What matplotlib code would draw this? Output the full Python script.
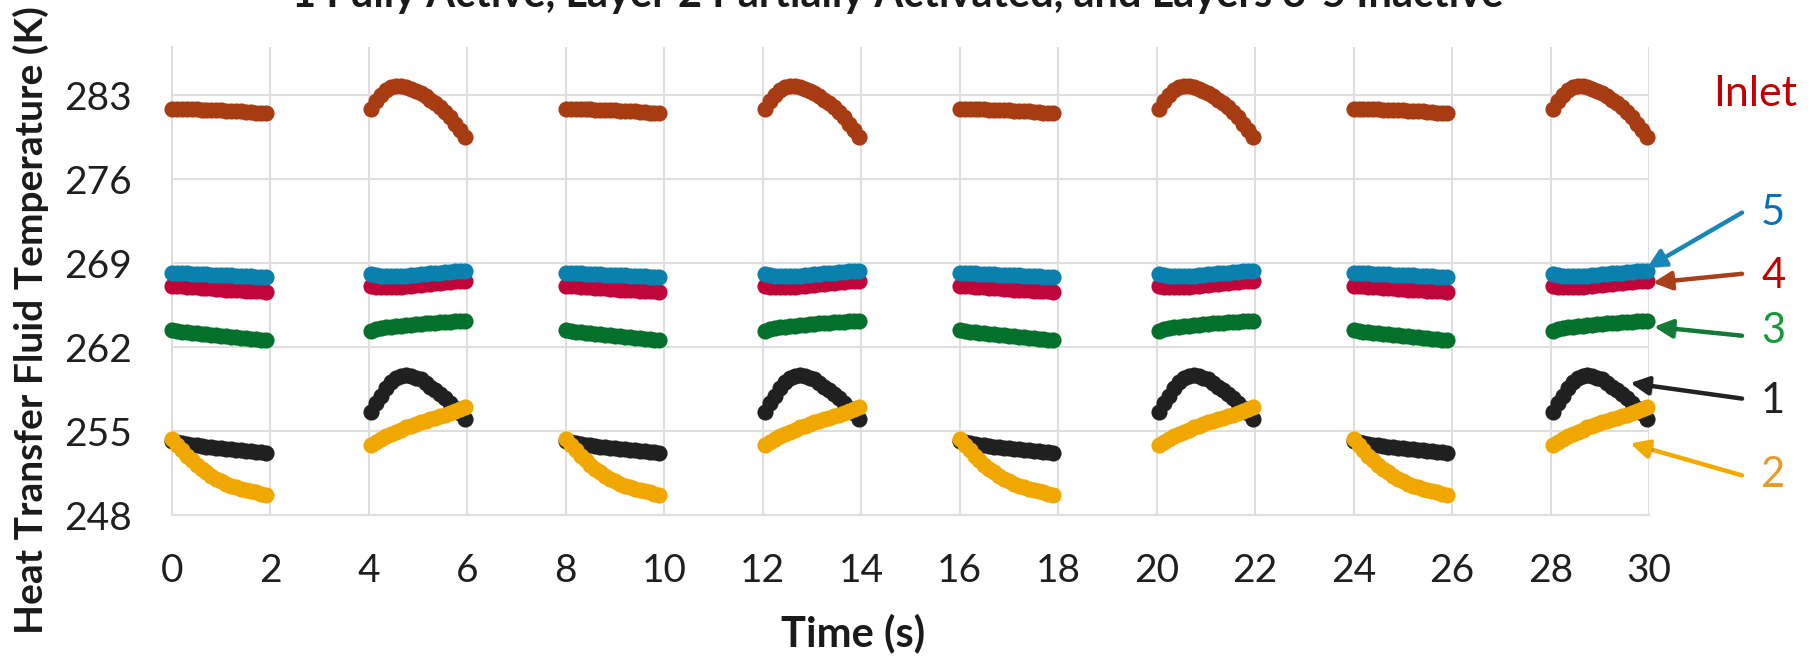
import matplotlib
matplotlib.use('Agg')
import matplotlib.pyplot as plt
import matplotlib.patheffects as pe

plt.rcParams['font.family'] = ['Lato', 'DejaVu Sans']

# ---------------- data ----------------
SEG_A_STARTS = [0.0, 8.0, 16.0, 24.0]      # flat / cooling phase
SEG_B_STARTS = [4.05, 12.05, 20.05, 28.05]  # heating phase
OFFSETS = [0.0, 0.1, 0.2, 0.3, 0.4, 0.5, 0.6, 0.7, 0.8, 0.9,
           1.0, 1.1, 1.2, 1.3, 1.4, 1.5, 1.6, 1.7, 1.8, 1.9]

INLET_A = [281.85, 281.85, 281.84, 281.83, 281.82, 281.80, 281.78, 281.77, 281.76, 281.74,
           281.72, 281.70, 281.68, 281.66, 281.63, 281.60, 281.57, 281.54, 281.51, 281.48]
INLET_B = [281.8, 282.5, 283.0, 283.4, 283.65, 283.78, 283.75, 283.65, 283.5, 283.35,
           283.2, 282.9, 282.6, 282.3, 282.0, 281.6, 281.15, 280.6, 280.05, 279.5]

L5_A = [268.2, 268.18, 268.16, 268.14, 268.12, 268.1, 268.08, 268.06, 268.04, 268.02,
        268.0, 267.98, 267.96, 267.94, 267.92, 267.9, 267.88, 267.86, 267.83, 267.8]
L5_B = [268.1, 268.0, 267.95, 267.9, 267.88, 267.88, 267.9, 267.93, 267.97, 268.0,
        268.05, 268.1, 268.13, 268.17, 268.2, 268.24, 268.27, 268.3, 268.33, 268.36]

L4_A = [267.12, 267.09, 267.06, 267.03, 267.0, 266.97, 266.94, 266.91, 266.88, 266.85,
        266.82, 266.79, 266.76, 266.74, 266.72, 266.7, 266.68, 266.66, 266.64, 266.62]
L4_B = [267.1, 267.02, 266.98, 266.96, 266.97, 266.99, 267.02, 267.06, 267.1, 267.14,
        267.18, 267.22, 267.26, 267.3, 267.34, 267.38, 267.42, 267.46, 267.5, 267.53]

L3_A = [263.38, 263.32, 263.27, 263.22, 263.17, 263.13, 263.09, 263.05, 263.01, 262.97,
        262.93, 262.89, 262.85, 262.81, 262.77, 262.73, 262.69, 262.65, 262.62, 262.58]
L3_B = [263.36, 263.47, 263.56, 263.63, 263.69, 263.74, 263.78, 263.82, 263.86, 263.9,
        263.93, 263.97, 264.0, 264.03, 264.06, 264.09, 264.12, 264.15, 264.18, 264.2]

L1_A = [254.15, 254.05, 253.98, 253.92, 253.86, 253.8, 253.75, 253.7, 253.65, 253.6,
        253.56, 253.52, 253.48, 253.44, 253.4, 253.36, 253.32, 253.27, 253.22, 253.17]
L1_B = [256.6, 257.3, 257.9, 258.6, 259.1, 259.4, 259.6, 259.65, 259.6, 259.45,
        259.3, 259.0, 258.7, 258.4, 258.1, 257.75, 257.35, 256.95, 256.5, 256.0]

L2_A = [254.3, 253.85, 253.4, 252.95, 252.55, 252.2, 251.85, 251.55, 251.25, 251.0,
        250.8, 250.6, 250.45, 250.3, 250.18, 250.07, 249.97, 249.88, 249.79, 249.7]
L2_B = [253.8, 254.1, 254.35, 254.55, 254.75, 254.95, 255.12, 255.3, 255.45, 255.6,
        255.75, 255.87, 255.98, 256.1, 256.22, 256.35, 256.5, 256.65, 256.82, 256.97]

X_TICKS = [0, 2, 4, 6, 8, 10, 12, 14, 16, 18, 20, 22, 24, 26, 28, 30]
Y_TICKS = [248, 255, 262, 269, 276, 283]

TITLE = "1 Fully Active, Layer 2 Partially Activated, and Layers 3-5 Inactive"
X_LABEL = "Time (s)"
Y_LABEL = "Heat Transfer Fluid Temperature (K)"

# series: (A profile, B profile, color) in drawing order
SERIES = [
    (INLET_A, INLET_B, '#A73C12'),
    (L4_A, L4_B, '#C0043A'),
    (L5_A, L5_B, '#0A80AE'),
    (L3_A, L3_B, '#03702C'),
    (L1_A, L1_B, '#202020'),
    (L2_A, L2_B, '#F0A800'),
]

# annotation labels: text, color, text pos (t, K)
LABELS = [
    ("Inlet", '#C00000', 32.15, 283.1),
    ("5", '#0070C0', 32.52, 273.2),
    ("4", '#C00000', 32.52, 267.94),
    ("3", '#17973A', 32.52, 263.36),
    ("1", '#222222', 32.52, 257.5),
    ("2", '#E69B2B', 32.52, 251.3),
]
# arrows: tail (t,K) -> head (t,K), color
ARROWS = [
    ((31.89, 273.2), (29.96, 268.6), '#1A86B8'),
    ((31.89, 268.1), (30.08, 267.36), '#A8401A'),
    ((31.89, 262.94), (30.10, 263.69), '#127A35'),
    ((31.89, 257.7), (29.62, 259.0), '#222222'),
    ((31.89, 251.3), (29.62, 253.96), '#F2AA00'),
]

# ---------------- figure ----------------
fig = plt.figure(figsize=(18.12, 6.57), dpi=100)
ax = fig.add_axes([172 / 1812, 1 - 515 / 657, (1649 - 172) / 1812, (515 - 47) / 657])

for prof_a, prof_b, col in SERIES:
    for s in SEG_A_STARTS:
        ax.scatter([s + o for o in OFFSETS], prof_a, s=135, color=col,
                   linewidths=0, zorder=3, clip_on=False)
    for s in SEG_B_STARTS:
        ax.scatter([s + o for o in OFFSETS], prof_b, s=135, color=col,
                   linewidths=0, zorder=3, clip_on=False)

ax.set_xlim(0, 30)
ax.set_ylim(248, 287)
ax.set_xticks(X_TICKS)
ax.set_yticks(Y_TICKS)
ax.grid(True, color='#DEDEDE', linewidth=1.5)
ax.set_axisbelow(True)
for side in ['top', 'right']:
    ax.spines[side].set_visible(False)
for side in ['left', 'bottom']:
    ax.spines[side].set_color('#DEDEDE')
    ax.spines[side].set_linewidth(1.5)
ax.tick_params(axis='both', length=0, labelsize=28, colors='#1f1f1f')
ax.tick_params(axis='y', pad=29)
ax.tick_params(axis='x', pad=27)

for txt, col, tx, ty in LABELS:
    ax.text(tx, ty, txt, color=col, fontsize=30 if txt != "Inlet" else 31,
            ha='center', va='center', clip_on=False)

shadow = [pe.SimpleLineShadow(offset=(2, -2), shadow_color='#000000', alpha=0.25),
          pe.Normal()]
for (tail, head, col) in ARROWS:
    ax.annotate('', xy=head, xytext=tail, xycoords='data', textcoords='data',
                annotation_clip=False,
                arrowprops=dict(arrowstyle='-|>,head_length=1.1,head_width=0.55',
                                color=col, lw=3.2, shrinkA=0, shrinkB=0,
                                path_effects=[pe.SimplePatchShadow(offset=(2, -2), alpha=0.25),
                                              pe.Normal()]))

fig.text(853 / 1812, 1 - 633 / 657, X_LABEL, fontsize=30, fontweight='bold',
         ha='center', va='center', color='#1a1a1a')
fig.text(31 / 1812, 1 - 320 / 657, Y_LABEL, fontsize=28, fontweight='bold',
         ha='center', va='center', rotation=90, color='#1a1a1a')
fig.text(898 / 1812, 1 - 7 / 657, TITLE, fontsize=30, fontweight='bold',
         ha='center', va='baseline', color='#1a1a1a')

fig.savefig('out.png', dpi=100)
